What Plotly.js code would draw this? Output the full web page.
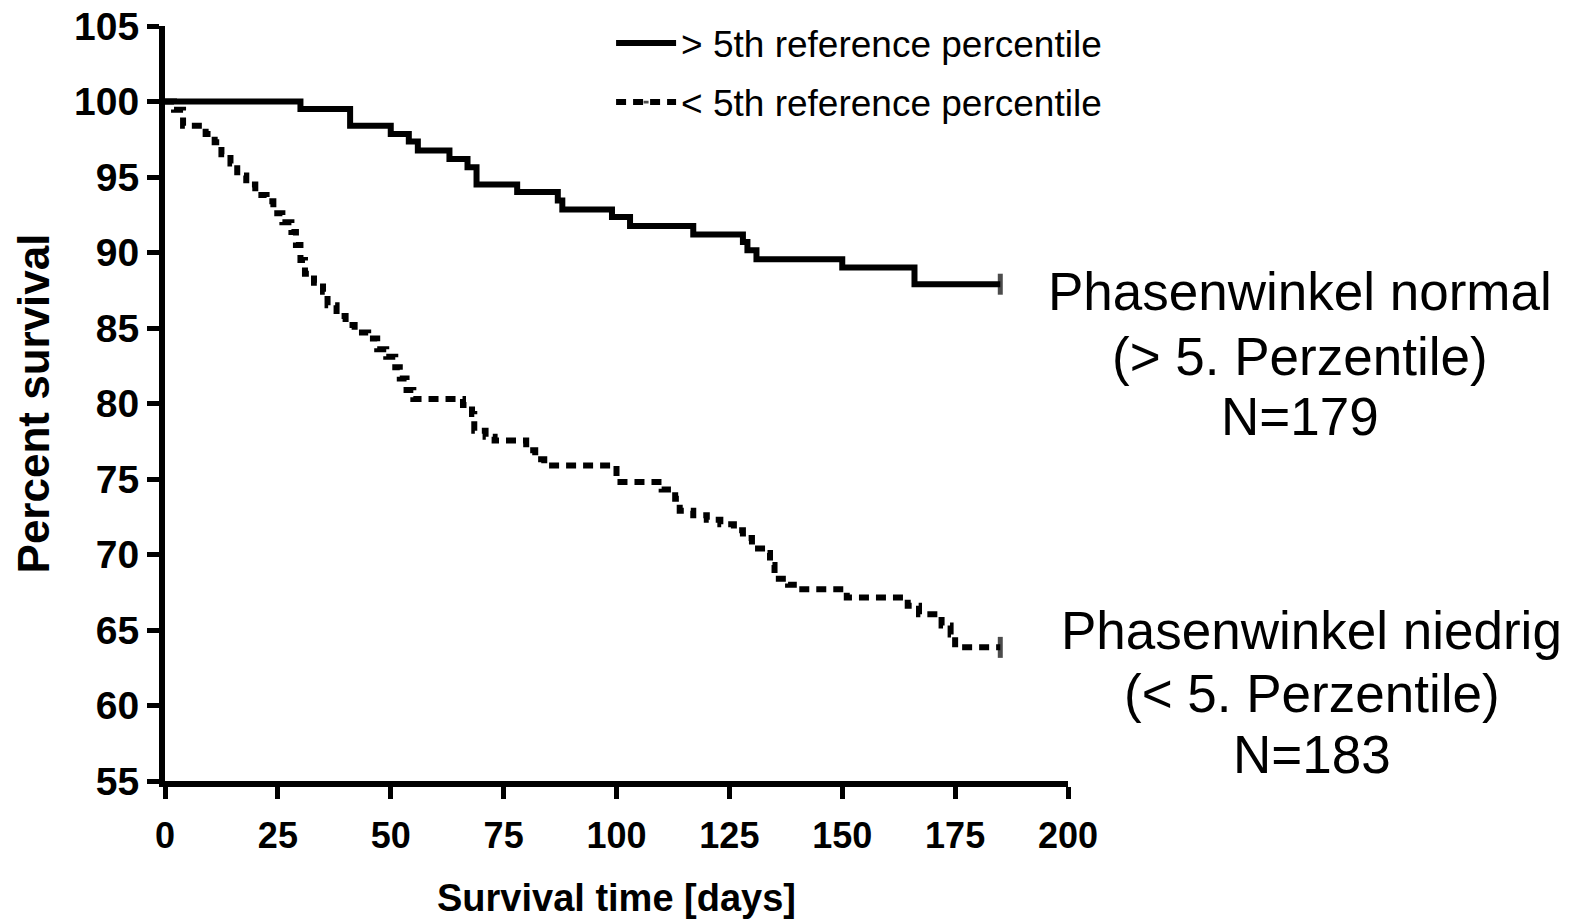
<!DOCTYPE html>
<html>
<head>
<meta charset="utf-8">
<script src="https://cdn.plot.ly/plotly-3.0.1.min.js"></script>
<style>html,body{margin:0;padding:0;background:#fff;}#chart{width:1580px;height:919px;}</style>
</head>
<body>
<div id="chart"></div>
<script>
// Kaplan-Meier step data
const normalDays = [0, 30, 41, 50, 54, 56, 63, 67, 69, 78, 87, 88, 99, 103, 117, 128, 129, 131, 150, 166, 185];
const normalSurv = [100, 99.5, 98.4, 97.85, 97.35, 96.75, 96.2, 95.65, 94.5, 94.0, 93.45, 92.85, 92.35, 91.75, 91.2, 90.7, 90.15, 89.55, 89.0, 87.9, 87.9];

const lowDays = [0, 2, 4, 9, 11, 12.5, 14.5, 16, 18, 20, 22.5, 24, 26, 28, 29, 30, 31, 33, 35, 36, 38, 40, 42, 45, 47, 49, 51, 52, 53.5, 55, 66, 68, 68.5, 71, 73, 80, 82, 84, 100, 110, 113, 114, 117, 120, 123, 126, 128, 130, 133, 134, 135, 138, 140, 151, 164.5, 167, 172, 174, 175, 185];
const lowSurv = [100, 99.45, 98.4, 97.85, 97.3, 96.5, 95.9, 95.1, 94.5, 93.8, 93.4, 92.6, 92.0, 91.35, 90.5, 89.5, 88.6, 88.0, 87.4, 86.5, 85.8, 85.2, 84.7, 84.3, 83.6, 83.1, 82.4, 81.65, 80.9, 80.3, 79.9, 79.3, 78.2, 77.8, 77.55, 76.9, 76.3, 75.9, 74.8, 74.3, 73.7, 72.9, 72.6, 72.3, 72.0, 71.6, 71.1, 70.4, 70.1, 69.3, 68.4, 68.0, 67.7, 67.15, 66.6, 66.05, 65.3, 64.7, 63.85, 63.85];

const seriesNames = ['> 5th reference percentile', '< 5th reference percentile'];
const xTicks = [0, 25, 50, 75, 100, 125, 150, 175, 200];
const yTicks = [55, 60, 65, 70, 75, 80, 85, 90, 95, 100, 105];
const normalLabel = ['Phasenwinkel normal', '(> 5. Perzentile)', 'N=179'];
const lowLabel = ['Phasenwinkel niedrig', '(< 5. Perzentile)', 'N=183'];

function endSizes(n) { const s = new Array(n).fill(0); s[n - 1] = 15; return s; }

const traces = [
  {
    x: normalDays, y: normalSurv, name: seriesNames[0], type: 'scatter', mode: 'lines+markers',
    line: {shape: 'hv', color: '#000', width: 6},
    marker: {symbol: 'line-ns-open', size: endSizes(normalDays.length), color: '#000', line: {width: 5, color: '#000'}},
    legendgroup: 'a', cliponaxis: false
  },
  {
    x: lowDays, y: lowSurv, name: seriesNames[1], type: 'scatter', mode: 'lines+markers',
    line: {shape: 'hv', color: '#000', width: 6, dash: '10px,7px'},
    marker: {symbol: 'line-ns-open', size: endSizes(lowDays.length), color: '#000', line: {width: 5, color: '#000'}},
    legendgroup: 'b', cliponaxis: false
  }
];

const FAM = 'Liberation Sans, Arial, sans-serif';
function lineAnns(lines, xc, ys) {
  return lines.map((t, i) => ({
    xref: 'paper', yref: 'paper', x: xc, y: ys[i], xanchor: 'center', yanchor: 'middle',
    showarrow: false, text: t, font: {family: FAM, size: 53, color: '#000'}
  }));
}
function py(pix) { return (781 - pix) / 757; }

const layout = {
  width: 1580, height: 919,
  margin: {l: 165, r: 512, t: 24, b: 138},
  paper_bgcolor: '#fff', plot_bgcolor: '#fff',
  showlegend: true,
  legend: {
    x: 0.494, y: 1.018, xanchor: 'left', yanchor: 'top', itemwidth: 60,
    font: {family: FAM, size: 37, color: '#000'},
    bgcolor: 'rgba(0,0,0,0)', traceorder: 'grouped', tracegroupgap: 8
  },
  xaxis: {
    range: [0, 200], tickvals: xTicks, ticktext: xTicks.map(String),
    showline: true, linecolor: '#000', linewidth: 6,
    ticks: 'outside', ticklen: 12, tickwidth: 5, tickcolor: '#000',
    showgrid: false, zeroline: false, tickfont: {family: FAM, size: 36, color: '#000', weight: 'bold'}, ticklabelstandoff: 6,
    title: {text: 'Survival time [days]', font: {family: FAM, size: 38, color: '#000', weight: 'bold'}, standoff: 32}
  },
  yaxis: {
    range: [55, 105], tickvals: yTicks, ticktext: yTicks.map(String),
    showline: true, linecolor: '#000', linewidth: 6,
    ticks: 'outside', ticklen: 12, tickwidth: 5, tickcolor: '#000',
    showgrid: false, zeroline: false, tickfont: {family: FAM, size: 39, color: '#000', weight: 'bold'}, ticklabelstandoff: 0,
    title: {text: 'Percent survival', font: {family: FAM, size: 44, color: '#000', weight: 'bold'}, standoff: 13}
  },
  annotations: lineAnns(normalLabel, 1.257, [py(290), py(355), py(416)])
    .concat(lineAnns(lowLabel, 1.270, [py(630), py(693), py(754)]))
};

Plotly.newPlot('chart', traces, layout, {displayModeBar: false, staticPlot: true});
</script>
</body>
</html>
